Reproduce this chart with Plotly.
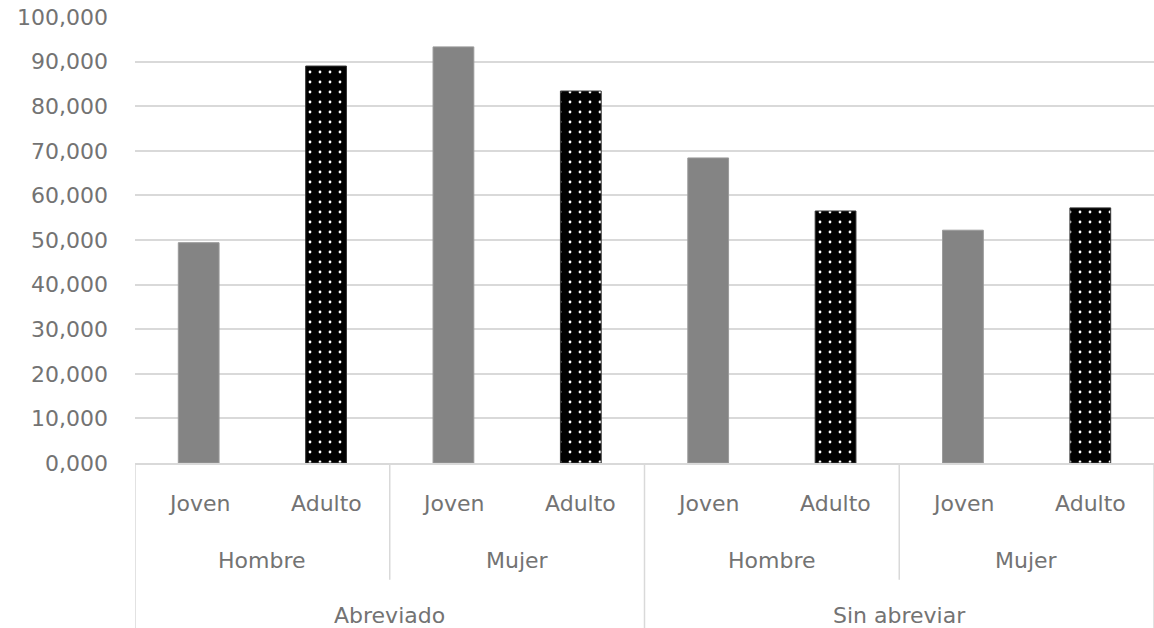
import plotly.graph_objects as go

# Hierarchical categories (outer -> inner)
groups = ["Abreviado", "Sin abreviar"]
sexes = ["Hombre", "Mujer"]
ages = ["Joven", "Adulto"]

# Values per (group, sex), in order Abreviado-Hombre, Abreviado-Mujer, Sin abreviar-Hombre, Sin abreviar-Mujer
joven = [49.4, 93.3, 68.4, 52.2]
adulto = [89.0, 83.4, 56.5, 57.2]

n_pairs = len(joven)
x_joven = [2 * i for i in range(n_pairs)]
x_adulto = [2 * i + 1 for i in range(n_pairs)]

text_color = "#737373"
grid_color = "#d9d9d9"
font_family = "DejaVu Sans"
font_size = 22

fig = go.Figure()
fig.add_trace(go.Bar(
    x=x_joven, y=joven, name="Joven", width=0.32,
    marker=dict(color="#848484", line=dict(color="#9a9a9a", width=1)),
))
fig.add_trace(go.Bar(
    x=x_adulto, y=adulto, name="Adulto", width=0.32,
    marker=dict(
        color="black",
        line=dict(color="#333333", width=1),
        pattern=dict(shape=".", fgcolor="white", bgcolor="black", size=10, solidity=0.06, fillmode="replace"),
    ),
))

n_slots = 2 * n_pairs
annotations = []
shapes = []

# Innermost level: age labels under each bar
for i in range(n_slots):
    annotations.append(dict(
        x=i, y=-0.09, xref="x", yref="paper", text=ages[i % 2], showarrow=False,
        font=dict(family=font_family, size=font_size, color=text_color), yanchor="middle",
    ))

# Middle level: sex labels centred over each pair
for i in range(n_pairs):
    annotations.append(dict(
        x=2 * i + 0.5, y=-0.218, xref="x", yref="paper", text=sexes[i % 2], showarrow=False,
        font=dict(family=font_family, size=font_size, color=text_color), yanchor="middle",
    ))

# Outer level: group labels centred over four slots
for g, name in enumerate(groups):
    annotations.append(dict(
        x=4 * g + 1.5, y=-0.342, xref="x", yref="paper", text=name, showarrow=False,
        font=dict(family=font_family, size=font_size, color=text_color), yanchor="middle",
    ))

# Divider lines between category blocks
for b in range(n_slots // 2 + 1):
    xb = 2 * b - 0.5
    full = (b % 2 == 0)
    shapes.append(dict(
        type="line", xref="x", yref="paper", x0=xb, x1=xb, y0=0, y1=-0.38 if full else -0.262,
        line=dict(color=grid_color, width=1.5),
    ))

fig.update_layout(
    width=1154, height=628,
    margin=dict(l=135, r=0, t=17, b=165),
    paper_bgcolor="white", plot_bgcolor="white",
    barmode="overlay", showlegend=False,
    separators=",.",
    font=dict(family=font_family, size=font_size, color=text_color),
    annotations=annotations, shapes=shapes,
    xaxis=dict(
        range=[-0.5, n_slots - 0.5], showticklabels=False, showgrid=False, zeroline=False,
        showline=True, linecolor=grid_color, linewidth=1.5, fixedrange=True,
    ),
    yaxis=dict(
        range=[0, 100], dtick=10, tick0=0, tickformat=".3f",
        showgrid=True, gridcolor=grid_color, gridwidth=1.5, zeroline=False,
        ticklabelstandoff=26, tickfont=dict(family=font_family, size=font_size, color=text_color),
        fixedrange=True,
    ),
)

fig.write_html("out.html")
